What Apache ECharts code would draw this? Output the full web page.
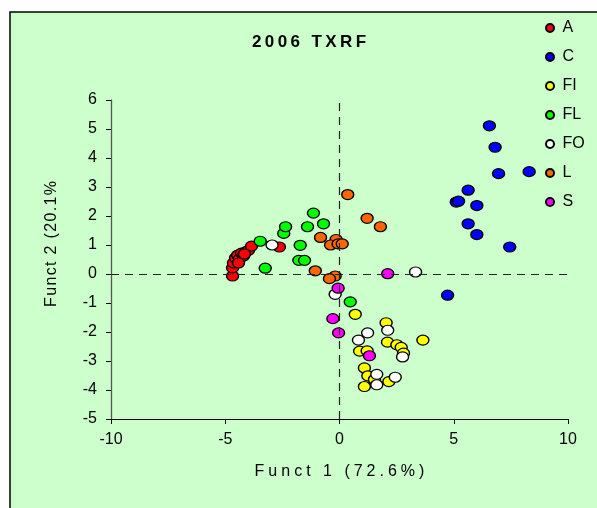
<!DOCTYPE html>
<html>
<head>
<meta charset="utf-8">
<script src="https://cdn.jsdelivr.net/npm/echarts@6/dist/echarts.min.js"></script>
<style>
  html, body { margin: 0; padding: 0; background: #fff; }
  #chart { width: 597px; height: 508px; }
</style>
</head>
<body>
<div id="chart"></div>
<script>
// Discriminant function scores, [Funct 1, Funct 2] per sample
const groupNames = ['A', 'C', 'FI', 'FL', 'FO', 'L', 'S'];
const groupColors = ['#FF0000', '#0000FF', '#FFFF00', '#00FF00', '#FFFFFF', '#FF6600', '#FF00FF'];

const scoresA = [
  [-4.68, -0.07], [-4.68, 0.21], [-4.64, 0.38], [-4.55, 0.55], [-4.46, 0.65],
  [-4.38, 0.52], [-4.29, 0.72], [-4.20, 0.62], [-4.11, 0.76], [-3.98, 0.82],
  [-3.85, 0.96], [-4.16, 0.69], [-4.42, 0.38], [-2.63, 0.93]
];
const scoresC = [
  [6.56, 5.11], [6.81, 4.37], [6.96, 3.46], [8.30, 3.53], [5.63, 2.89],
  [5.11, 2.48], [5.21, 2.51], [6.01, 2.36], [5.63, 1.73], [6.01, 1.36],
  [7.45, 0.93], [4.73, -0.73]
];
const scoresFI = [
  [0.69, -1.39], [2.04, -1.68], [3.65, -2.28], [2.10, -2.35], [2.51, -2.44],
  [2.70, -2.53], [2.80, -2.73], [0.88, -2.66], [1.21, -2.65], [1.09, -3.24],
  [1.24, -3.51], [1.53, -3.64], [2.16, -3.71], [1.09, -3.88]
];
const scoresFL = [
  [-3.47, 1.13], [-2.44, 1.40], [-2.36, 1.63], [-1.14, 2.10], [-1.40, 1.63],
  [-0.70, 1.73], [-1.72, 0.99], [-1.78, 0.47], [-1.53, 0.47], [-3.25, 0.20],
  [0.47, -0.96]
];
const scoresFO = [
  [-2.95, 1.00], [-0.19, -0.70], [3.33, 0.07], [1.23, -2.03], [0.83, -2.28],
  [2.11, -1.94], [2.76, -2.86], [1.63, -3.46], [1.63, -3.82], [2.44, -3.56]
];
const scoresL = [
  [0.36, 2.74], [1.21, 1.92], [1.79, 1.63], [-0.83, 1.26], [-0.15, 1.19],
  [-0.39, 1.00], [-0.06, 1.04], [0.12, 1.04], [-1.06, 0.11], [-0.19, -0.07],
  [-0.44, -0.16]
];
const scoresS = [
  [2.11, 0.01], [-0.06, -0.49], [-0.29, -1.54], [-0.04, -2.03], [1.31, -2.82]
];
const groupScores = [scoresA, scoresC, scoresFI, scoresFL, scoresFO, scoresL, scoresS];

const xTicks = { min: -10, max: 10, interval: 5 };
const yTicks = { min: -5, max: 6, interval: 1 };

// Canvas text has no letter-spacing, so widen tracking with narrow Unicode spaces
const track = (s, sp) => s.split('').join(sp);
const THIN = '\u2009', FOUR_PER_EM = '\u2005', HAIR = '\u200A';

const chart = echarts.init(document.getElementById('chart'), null, { renderer: 'canvas' });

const font = 'Arial, "Liberation Sans", sans-serif';

const series = groupNames.map((name, i) => ({
  name: name,
  type: 'scatter',
  data: groupScores[i],
  symbol: 'circle',
  symbolSize: [12, 10],
  itemStyle: { color: groupColors[i], borderColor: '#000', borderWidth: 1.3, opacity: 1 },
  emphasis: { disabled: true },
  z: 3
}));

// dashed reference lines through the origin
series.push({
  name: 'origin',
  type: 'line',
  data: [],
  silent: true,
  markLine: {
    symbol: 'none',
    silent: true,
    label: { show: false },
    lineStyle: { color: '#222', type: [8, 6], width: 1.2 },
    data: [{ xAxis: 0 }, { yAxis: 0 }]
  },
  z: 2
});

chart.setOption({
  animation: false,
  backgroundColor: '#fff',
  graphic: [
    {
      type: 'rect',
      z: -10,
      shape: { x: 10, y: 12, width: 600, height: 510 },
      style: { fill: '#CCFFCC', stroke: '#000', lineWidth: 1.5 }
    },
    {
      type: 'text',
      z: 10,
      x: 52, y: 244,
      rotation: Math.PI / 2,
      style: {
        text: track('Funct 2 (20.1%', HAIR),
        font: '16px ' + font,
        fill: '#000',
        align: 'center',
        verticalAlign: 'middle'
      }
    }
  ],
  title: {
    text: track('2006 TXRF', THIN),
    left: 304,
    top: 29,
    textAlign: 'center',
    textStyle: { fontFamily: font, fontSize: 17, fontWeight: 'bold', color: '#000' }
  },
  legend: {
    orient: 'vertical',
    left: 540,
    top: 15,
    itemWidth: 9,
    itemHeight: 8,
    itemGap: 13,
    icon: 'circle',
    data: groupNames,
    textStyle: { fontFamily: font, fontSize: 16, color: '#000', lineHeight: 16, padding: [0, 0, 0, 3] }
  },
  grid: { left: 111, right: 29, top: 100, bottom: 89, containLabel: false },
  xAxis: {
    type: 'value',
    min: xTicks.min, max: xTicks.max, interval: xTicks.interval,
    name: track('Funct 1 (72.6%)', FOUR_PER_EM),
    nameLocation: 'middle',
    nameGap: 45,
    nameTextStyle: { fontFamily: font, fontSize: 16, color: '#000' },
    axisLine: { onZero: false, lineStyle: { color: '#000', width: 1 } },
    axisTick: { show: true, length: 5, lineStyle: { color: '#000' } },
    axisLabel: { fontFamily: font, fontSize: 16, color: '#000', margin: 13 },
    splitLine: { show: false }
  },
  yAxis: {
    type: 'value',
    min: yTicks.min, max: yTicks.max, interval: yTicks.interval,
    axisLine: { show: true, onZero: false, lineStyle: { color: '#555', width: 1.3 } },
    axisTick: { show: true, length: 5, lineStyle: { color: '#000' } },
    axisLabel: { fontFamily: font, fontSize: 16, color: '#000', margin: 14 },
    splitLine: { show: false }
  },
  series: series
});
</script>
</body>
</html>
